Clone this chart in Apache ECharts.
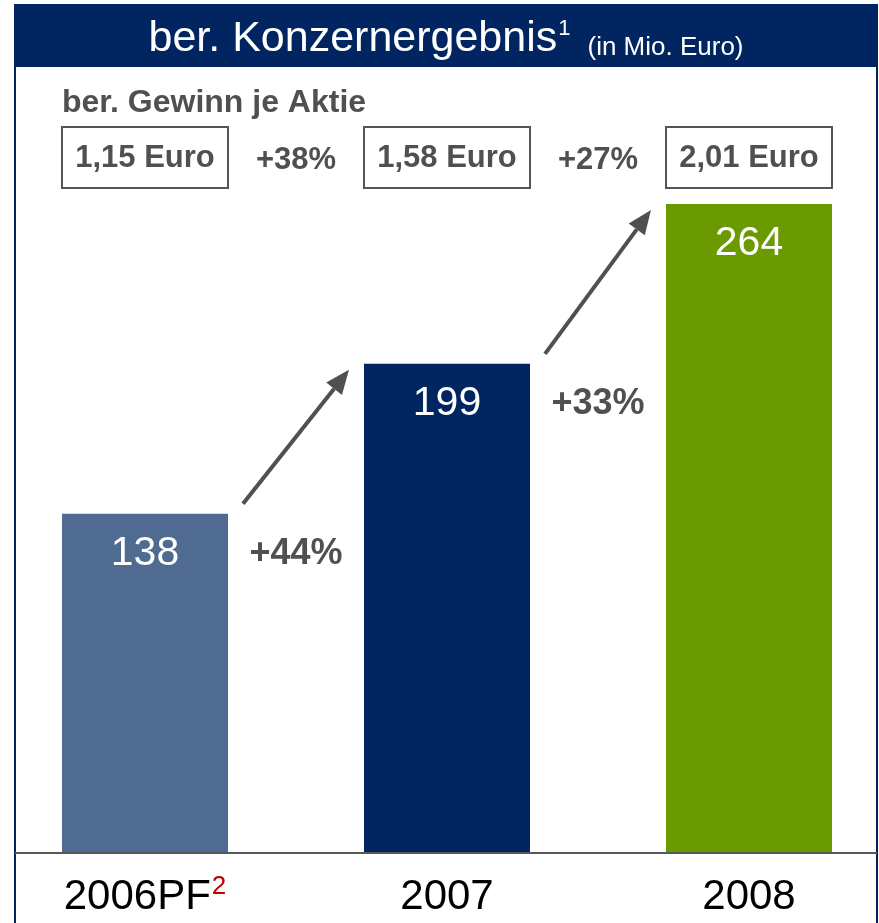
<!DOCTYPE html>
<html>
<head>
<meta charset="utf-8">
<script src="https://cdn.jsdelivr.net/npm/echarts@6/dist/echarts.min.js"></script>
<style>
  html, body { margin: 0; padding: 0; background: #ffffff; }
  #main { width: 879px; height: 923px; }
</style>
</head>
<body>
<div id="main"></div>
<script>
// data
var years = ['2006PF', '2007', '2008'];
var yearNotes = ['2', '', ''];
var ergebnis = [138, 199, 264];
var barColors = ['#4F6B91', '#002560', '#6A9A00'];
var ergebnisGrowth = ['+44%', '+33%'];
var epsLabels = ['1,15 Euro', '1,58 Euro', '2,01 Euro'];
var epsGrowth = ['+38%', '+27%'];

var FONT = 'Liberation Sans, Arial, sans-serif';
var NAVY = '#002560';
var GREY = '#505050';
var BAR_W = 166;

var myChart = echarts.init(document.getElementById('main'));

var barData = [];
for (var i = 0; i < ergebnis.length; i++) {
  barData.push({ value: ergebnis[i], itemStyle: { color: barColors[i] } });
}

var option = {
  backgroundColor: '#ffffff',
  animation: false,
  grid: { left: 145, right: 130, top: 115.6, bottom: 70 },
  xAxis: {
    type: 'category',
    data: years,
    boundaryGap: false,
    axisLine: { show: false },
    axisTick: { show: false },
    axisLabel: {
      margin: 19,
      fontFamily: FONT,
      formatter: function (val, idx) {
        var s = '{a|' + val + '}';
        if (yearNotes[idx]) s += '{s|' + yearNotes[idx] + '}';
        return s;
      },
      rich: {
        a: { fontSize: 42, color: '#000000', fontFamily: FONT, lineHeight: 46, verticalAlign: 'bottom' },
        s: { fontSize: 26, color: '#C00000', fontFamily: FONT, lineHeight: 46, verticalAlign: 'top', padding: [2, 0, 0, 1] }
      }
    }
  },
  yAxis: { type: 'value', min: 0, max: 300, show: false, splitLine: { show: false } },
  series: [{
    type: 'bar',
    data: barData,
    barWidth: BAR_W,
    label: {
      show: true,
      position: 'insideTop',
      distance: 19,
      color: '#ffffff',
      fontSize: 41,
      fontFamily: FONT
    }
  }]
};
myChart.setOption(option);

// header, boxes, arrows
function px(cat) { return myChart.convertToPixel({ xAxisIndex: 0 }, cat); }
function py(v) { return myChart.convertToPixel({ yAxisIndex: 0 }, v); }

var g = [];
g.push({ type: 'rect', shape: { x: 15, y: 5, width: 862, height: 960 }, style: { fill: 'none', stroke: NAVY, lineWidth: 2 }, z: 10 });
g.push({ type: 'rect', shape: { x: 14, y: 5, width: 864, height: 62 }, style: { fill: NAVY }, z: 11 });
g.push({
  type: 'text', x: 446, y: 38, z: 12,
  style: {
    text: '{a|ber. Konzernergebnis}{s|1}{b|(in Mio. Euro)}',
    align: 'center', verticalAlign: 'middle',
    rich: {
      a: { fontSize: 43, fill: '#ffffff', fontFamily: FONT, lineHeight: 46, verticalAlign: 'bottom' },
      s: { fontSize: 22, fill: '#ffffff', fontFamily: FONT, lineHeight: 46, verticalAlign: 'top', padding: [3, 17, 0, 1] },
      b: { fontSize: 26, fill: '#ffffff', fontFamily: FONT, lineHeight: 40, verticalAlign: 'bottom' }
    }
  }
});
g.push({
  type: 'text', x: 62, y: 103, z: 12,
  style: { text: 'ber. Gewinn je Aktie', fill: GREY, font: 'bold 32px ' + FONT, verticalAlign: 'middle' }
});

var base = py(0);
g.push({ type: 'line', shape: { x1: 15, y1: base, x2: 877, y2: base }, style: { stroke: '#595959', lineWidth: 2 }, z: 12 });

var cx = [];
for (var i = 0; i < years.length; i++) cx.push(px(years[i]));

for (var i = 0; i < epsLabels.length; i++) {
  g.push({ type: 'rect', shape: { x: cx[i] - BAR_W / 2, y: 127, width: BAR_W, height: 61 }, style: { fill: '#ffffff', stroke: '#555555', lineWidth: 2 }, z: 12 });
  g.push({ type: 'text', x: cx[i], y: 158, z: 13, style: { text: epsLabels[i], fill: GREY, font: 'bold 31px ' + FONT, align: 'center', verticalAlign: 'middle' } });
}
for (var i = 0; i < epsGrowth.length; i++) {
  g.push({ type: 'text', x: (cx[i] + cx[i + 1]) / 2, y: 160, z: 13, style: { text: epsGrowth[i], fill: GREY, font: 'bold 31px ' + FONT, align: 'center', verticalAlign: 'middle' } });
}

for (var i = 0; i < ergebnisGrowth.length; i++) {
  var lowTop = py(ergebnis[i]);
  var highTop = py(ergebnis[i + 1]);
  var x1 = cx[i] + BAR_W / 2 + 15, y1 = lowTop - 10;
  var x2 = cx[i + 1] - BAR_W / 2 - 15, y2 = highTop + 6;
  var ang = Math.atan2(y2 - y1, x2 - x1);
  var hl = 24, hw = 10;
  var bx = x2 - hl * Math.cos(ang), by = y2 - hl * Math.sin(ang);
  g.push({ type: 'line', shape: { x1: x1, y1: y1, x2: bx, y2: by }, style: { stroke: GREY, lineWidth: 4 }, z: 12 });
  g.push({
    type: 'polygon', z: 12,
    shape: { points: [
      [x2, y2],
      [bx + hw * Math.sin(ang), by - hw * Math.cos(ang)],
      [bx - hw * Math.sin(ang), by + hw * Math.cos(ang)]
    ] },
    style: { fill: GREY }
  });
  g.push({ type: 'text', x: (cx[i] + cx[i + 1]) / 2, y: lowTop + 40, z: 13, style: { text: ergebnisGrowth[i], fill: GREY, font: 'bold 36px ' + FONT, align: 'center', verticalAlign: 'middle' } });
}

myChart.setOption({ graphic: g });
</script>
</body>
</html>
